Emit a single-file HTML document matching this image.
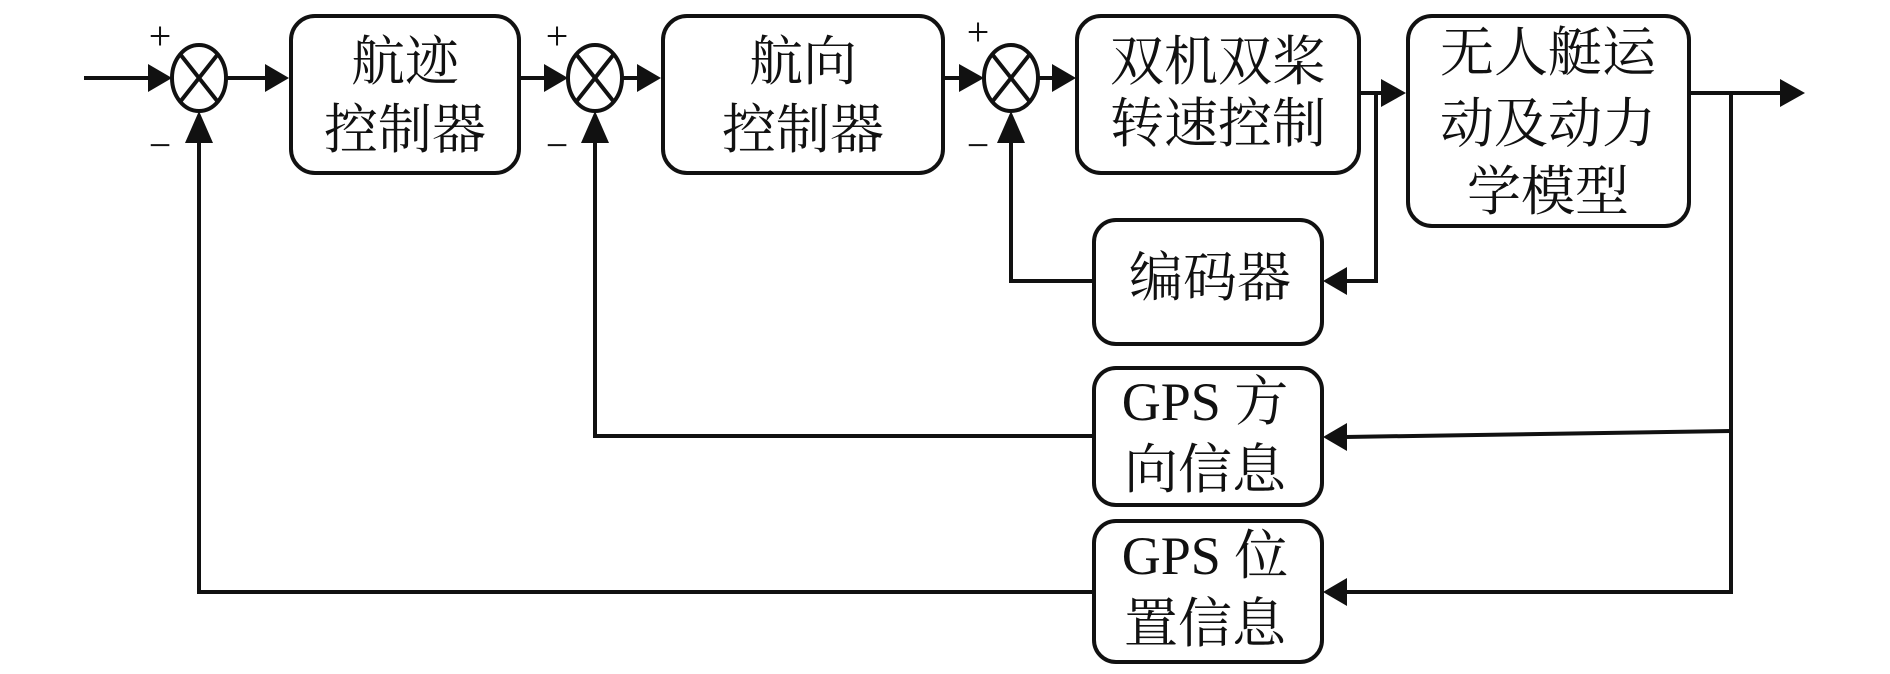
<!DOCTYPE html>
<html><head><meta charset="utf-8"><style>
html,body{margin:0;padding:0;background:#fff;}
svg text{font-family:"Liberation Serif","Noto Serif CJK SC",serif;font-size:54px;fill:#111;text-anchor:middle;dominant-baseline:central;}
.pm{font-size:40px;}
</style></head><body>
<svg width="1890" height="669" viewBox="0 0 1890 669" xmlns="http://www.w3.org/2000/svg">
<g fill="none" stroke="#111" stroke-width="4">
<!-- boxes -->
<rect x="291" y="16" width="228" height="157" rx="24"/>
<rect x="663" y="16" width="280" height="157" rx="24"/>
<rect x="1077" y="16" width="282" height="157" rx="24"/>
<rect x="1408" y="16" width="281" height="210" rx="24"/>
<rect x="1094" y="220" width="228" height="124" rx="22"/>
<rect x="1094" y="368" width="228" height="137" rx="22"/>
<rect x="1094" y="521" width="228" height="141" rx="22"/>
<!-- summers -->
<ellipse cx="199" cy="78" rx="27" ry="33"/>
<ellipse cx="595" cy="78" rx="27" ry="33"/>
<ellipse cx="1011" cy="78" rx="27" ry="33"/>
<path d="M180 54 L218 102 M218 54 L180 102"/>
<path d="M576 54 L614 102 M614 54 L576 102"/>
<path d="M992 54 L1030 102 M1030 54 L992 102"/>
<!-- forward lines -->
<path d="M84 78 H150 M226 78 H268 M519 78 H545 M622 78 H640 M943 78 H960 M1038 78 H1055"/>
<path d="M1359 93 H1382 M1689 93 H1782"/>
<!-- encoder branch -->
<path d="M1376 93 V281 H1345"/>
<path d="M1094 281 H1011 V140"/>
<!-- GPS branch -->
<path d="M1731 93 V592 H1345"/>
<path d="M1731 431 L1345 437"/>
<path d="M1094 436 H595 V140"/>
<path d="M1094 592 H199 V140"/>
</g>
<g fill="#111">
<!-- horizontal arrowheads (right) -->
<polygon points="148,64 172,78 148,92"/>
<polygon points="265,64 289,78 265,92"/>
<polygon points="544,64 568,78 544,92"/>
<polygon points="637,64 661,78 637,92"/>
<polygon points="959,64 984,78 959,92"/>
<polygon points="1052,64 1076,78 1052,92"/>
<polygon points="1381,79 1406,93 1381,107"/>
<polygon points="1780,79 1805,93 1780,107"/>
<!-- left arrowheads -->
<polygon points="1347,267 1323,281 1347,295"/>
<polygon points="1347,423 1323,437 1347,451"/>
<polygon points="1347,578 1323,592 1347,606"/>
<!-- up arrowheads -->
<polygon points="185,143 199,111 213,143"/>
<polygon points="581,143 595,111 609,143"/>
<polygon points="997,143 1011,111 1025,143"/>
</g>
<text class="pm" x="160" y="36">+</text>
<text class="pm" x="160" y="145">−</text>
<text class="pm" x="557" y="36">+</text>
<text class="pm" x="557" y="145">−</text>
<text class="pm" x="978" y="32">+</text>
<text class="pm" x="978" y="145">−</text>
<text x="405" y="62">航迹</text>
<text x="405" y="130">控制器</text>
<text x="803" y="62">航向</text>
<text x="803" y="130">控制器</text>
<text x="1218" y="62">双机双桨</text>
<text x="1218" y="124">转速控制</text>
<text x="1548" y="53">无人艇运</text>
<text x="1548" y="124">动及动力</text>
<text x="1548" y="192">学模型</text>
<text x="1210" y="278">编码器</text>
<text x="1205" y="402">GPS 方</text>
<text x="1205" y="470">向信息</text>
<text x="1205" y="556">GPS 位</text>
<text x="1205" y="624">置信息</text>
</svg>
</body></html>
